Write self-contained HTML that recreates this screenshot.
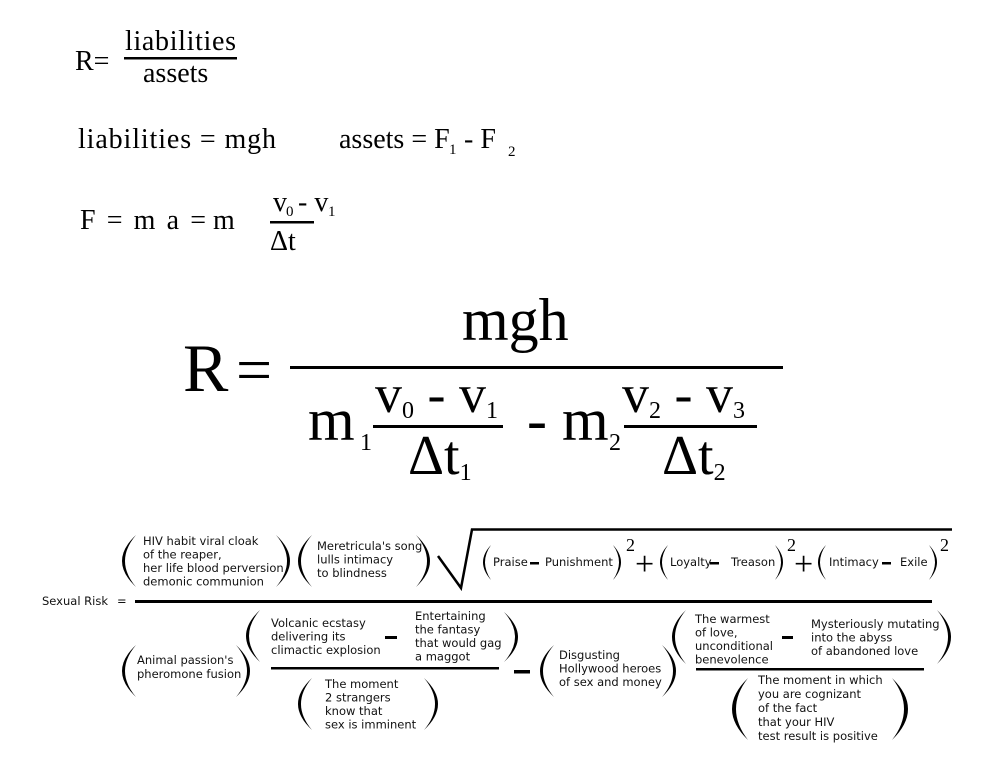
<!DOCTYPE html>
<html><head><meta charset="utf-8"><style>
html,body{margin:0;padding:0;background:#fff;width:1000px;height:773px;overflow:hidden}
.s{font-family:"Liberation Serif",serif;fill:#000}
.t{font-family:"DejaVu Sans","Liberation Sans",sans-serif;font-size:11.5px;fill:#111}
.p{fill:#000}
</style></head><body>
<svg width="1000" height="773" viewBox="0 0 1000 773" xmlns="http://www.w3.org/2000/svg">
<text class="s" x="75" y="70" font-size="28">R=</text>
<text class="s" x="125" y="50" font-size="28" textLength="111">liabilities</text>
<rect x="124" y="57" width="113" height="2.5"/>
<text class="s" x="143" y="82" font-size="28">assets</text>

<text class="s" x="78" y="148" font-size="28" textLength="198">liabilities = mgh</text>
<text class="s" x="339" y="148" font-size="28">assets = F</text>
<text class="s" x="449" y="154" font-size="15">1</text>
<text class="s" x="464" y="148" font-size="28">- F</text>
<text class="s" x="508" y="156" font-size="15">2</text>

<text class="s" x="80" y="229" font-size="28" textLength="126">F = m a =</text>
<text class="s" x="213" y="229" font-size="28">m</text>
<text class="s" x="273" y="211" font-size="28">v</text>
<text class="s" x="286" y="216" font-size="15">0</text>
<text class="s" x="298" y="211" font-size="28">- v</text>
<text class="s" x="328" y="216" font-size="15">1</text>
<rect x="270" y="221" width="44" height="2.5"/>
<text class="s" x="270" y="250" font-size="28">Δt</text>

<text class="s" x="183" y="391" font-size="68">R</text>
<text class="s" x="236" y="391" font-size="64">=</text>
<text class="s" x="462" y="340" font-size="60">mgh</text>
<rect x="290" y="366" width="493" height="3"/>
<text class="s" x="308" y="440" font-size="60">m</text>
<text class="s" x="360" y="450" font-size="24">1</text>
<text class="s" x="375" y="412" font-size="54">v<tspan font-size="24" dy="6">0</tspan><tspan dy="-6"> - v</tspan><tspan font-size="24" dy="6">1</tspan></text>
<rect x="373" y="425" width="130" height="3"/>
<text class="s" x="408" y="474" font-size="56">Δt<tspan font-size="24" dy="6">1</tspan></text>
<text class="s" x="527" y="440" font-size="60">- m</text>
<text class="s" x="609" y="450" font-size="24">2</text>
<text class="s" x="622" y="412" font-size="54">v<tspan font-size="24" dy="6">2</tspan><tspan dy="-6"> - v</tspan><tspan font-size="24" dy="6">3</tspan></text>
<rect x="624" y="425" width="133" height="3"/>
<text class="s" x="662" y="474" font-size="56">Δt<tspan font-size="24" dy="6">2</tspan></text>

<text class="t" x="42" y="605">Sexual Risk</text>
<text class="t" x="117" y="605" font-size="13">=</text>
<rect x="135" y="600" width="797" height="3"/>

<path class="p" d="M136 535 Q108 561 136 587 Q114 561 136 535Z"/>
<text class="t" x="143" y="545">HIV habit viral cloak</text>
<text class="t" x="143" y="558.5">of the reaper,</text>
<text class="t" x="143" y="572">her life blood perversion</text>
<text class="t" x="143" y="585.5">demonic communion</text>
<path class="p" d="M276 535 Q304 561 276 587 Q298 561 276 535Z"/>
<path class="p" d="M312 535 Q284 561 312 587 Q290 561 312 535Z"/>
<text class="t" x="317" y="550">Meretricula's song</text>
<text class="t" x="317" y="563.5">lulls intimacy</text>
<text class="t" x="317" y="577">to blindness</text>
<path class="p" d="M416 535 Q444 561 416 587 Q438 561 416 535Z"/>
<polyline points="438,556 461,588 472,529.5 952,529.5" fill="none" stroke="#000" stroke-width="2.5"/>
<path class="p" d="M491 545 Q475 562 491 580 Q479 562 491 545Z"/>
<text class="t" x="493" y="566" font-size="10">Praise</text>
<rect x="530" y="562" width="9" height="2.5"/>
<text class="t" x="545" y="566" font-size="10">Punishment</text>
<path class="p" d="M613 545 Q629 562 613 580 Q625 562 613 545Z"/>
<text class="s" x="626" y="551" font-size="18">2</text>
<text class="s" x="635" y="575" font-size="34">+</text>
<path class="p" d="M668 545 Q652 562 668 580 Q656 562 668 545Z"/>
<text class="t" x="670" y="566" font-size="10">Loyalty</text>
<rect x="710" y="562" width="9" height="2.5"/>
<text class="t" x="731" y="566" font-size="10">Treason</text>
<path class="p" d="M775 545 Q791 562 775 580 Q787 562 775 545Z"/>
<text class="s" x="787" y="551" font-size="18">2</text>
<text class="s" x="794" y="575" font-size="34">+</text>
<path class="p" d="M826 545 Q810 562 826 580 Q814 562 826 545Z"/>
<text class="t" x="829" y="566" font-size="10">Intimacy</text>
<rect x="882" y="562" width="9" height="2.5"/>
<text class="t" x="900" y="566" font-size="10">Exile</text>
<path class="p" d="M929 545 Q945 562 929 580 Q941 562 929 545Z"/>
<text class="s" x="940" y="551" font-size="18">2</text>

<path class="p" d="M136 645 Q108 671 136 697 Q114 671 136 645Z"/>
<text class="t" x="137" y="664">Animal passion's</text>
<text class="t" x="137" y="678">pheromone fusion</text>
<path class="p" d="M236 645 Q264 671 236 697 Q258 671 236 645Z"/>

<path class="p" d="M260 610 Q232 636 260 662 Q238 636 260 610Z"/>
<text class="t" x="271" y="627">Volcanic ecstasy</text>
<text class="t" x="271" y="640.5">delivering its</text>
<text class="t" x="271" y="654">climactic explosion</text>
<rect x="385" y="636" width="12" height="3"/>
<text class="t" x="415" y="620">Entertaining</text>
<text class="t" x="415" y="633.5">the fantasy</text>
<text class="t" x="415" y="647">that would gag</text>
<text class="t" x="415" y="660.5">a maggot</text>
<path class="p" d="M504 612 Q532 637 504 662 Q526 637 504 612Z"/>
<rect x="271" y="667" width="228" height="2.5"/>
<path class="p" d="M312 678 Q284 704 312 730 Q290 704 312 678Z"/>
<text class="t" x="325" y="688">The moment</text>
<text class="t" x="325" y="701.5">2 strangers</text>
<text class="t" x="325" y="715">know that</text>
<text class="t" x="325" y="728.5">sex is imminent</text>
<path class="p" d="M424 678 Q452 704 424 730 Q446 704 424 678Z"/>

<rect x="514" y="670" width="16" height="3.5"/>
<path class="p" d="M554 645 Q526 671 554 697 Q532 671 554 645Z"/>
<text class="t" x="559" y="659">Disgusting</text>
<text class="t" x="559" y="672.5">Hollywood heroes</text>
<text class="t" x="559" y="686">of sex and money</text>
<path class="p" d="M662 645 Q690 671 662 697 Q684 671 662 645Z"/>

<path class="p" d="M686 610 Q658 637 686 664 Q664 637 686 610Z"/>
<text class="t" x="695" y="623">The warmest</text>
<text class="t" x="695" y="636.5">of love,</text>
<text class="t" x="695" y="650">unconditional</text>
<text class="t" x="695" y="663.5">benevolence</text>
<rect x="782" y="636" width="11" height="3"/>
<text class="t" x="811" y="628">Mysteriously mutating</text>
<text class="t" x="811" y="641.5">into the abyss</text>
<text class="t" x="811" y="655">of abandoned love</text>
<path class="p" d="M937 610 Q965 637 937 664 Q959 637 937 610Z"/>
<rect x="696" y="668" width="228" height="2.5"/>
<path class="p" d="M748 678 Q716 709 748 740 Q724 709 748 678Z"/>
<text class="t" x="758" y="684">The moment in which</text>
<text class="t" x="758" y="698">you are cognizant</text>
<text class="t" x="758" y="712">of the fact</text>
<text class="t" x="758" y="726">that your HIV</text>
<text class="t" x="758" y="740">test result is positive</text>
<path class="p" d="M892 678 Q924 709 892 740 Q916 709 892 678Z"/>
</svg>
</body></html>
